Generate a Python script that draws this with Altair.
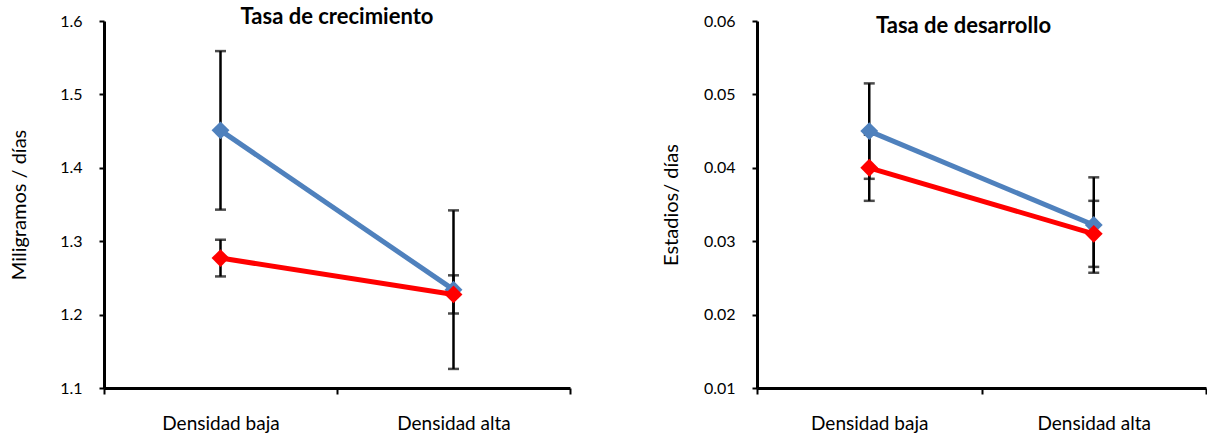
import altair as alt
import pandas as pd

categorias = ["Densidad baja", "Densidad alta"]

crec_azul = [1.451, 1.234]
crec_azul_err = [0.108, 0.108]
crec_rojo = [1.277, 1.2275]
crec_rojo_err = [0.025, 0.026]
crec_ticks = [1.1, 1.2, 1.3, 1.4, 1.5, 1.6]

des_azul = [0.045, 0.0322]
des_azul_err = [0.0065, 0.0065]
des_rojo = [0.040, 0.0310]
des_rojo_err = [0.0045, 0.0045]
des_ticks = [0.01, 0.02, 0.03, 0.04, 0.05, 0.06]

AZUL = "#4F81BD"
ROJO = "#FF0000"
FONT = "Lato"


def panel(titulo, ytitulo, azul, azul_err, rojo, rojo_err, ticks, fmt, w, h,
          title_dx, title_dy, tpad):
    rows = []
    for serie, vals, errs in [("azul", azul, azul_err), ("rojo", rojo, rojo_err)]:
        for c, v, e in zip(categorias, vals, errs):
            rows.append(dict(cat=c, serie=serie, v=v, lo=v - e, hi=v + e))
    df = pd.DataFrame(rows)

    x = alt.X("cat:N", sort=categorias,
              scale=alt.Scale(paddingInner=0, paddingOuter=0),
              axis=alt.Axis(title=None, tickBand="extent", labelAngle=0,
                            labelPadding=20, tickSize=6, labelFontSize=19,
                            grid=False))
    yscale = alt.Scale(domain=[ticks[0], ticks[-1]], nice=False, zero=False)
    base = alt.Chart(df).encode(x=x)

    rule = base.mark_rule(color="black", strokeWidth=2.5).encode(
        y=alt.Y("lo:Q", scale=yscale,
                axis=alt.Axis(values=ticks, format=fmt, title=ytitulo,
                              titlePadding=tpad, tickSize=5, labelPadding=17,
                              labelFontSize=16, titleFontSize=20,
                              titleFontWeight="normal", grid=False)),
        y2="hi:Q")
    cap_lo = base.mark_tick(color="black", thickness=2.5, size=11).encode(
        y=alt.Y("lo:Q", scale=yscale))
    cap_hi = base.mark_tick(color="black", thickness=2.5, size=11).encode(
        y=alt.Y("hi:Q", scale=yscale))

    layers = [rule, cap_lo, cap_hi]
    for serie, col in [("azul", AZUL), ("rojo", ROJO)]:
        sub = base.transform_filter(alt.datum.serie == serie)
        layers.append(sub.mark_line(color=col, strokeWidth=5).encode(
            y=alt.Y("v:Q", scale=yscale)))
        layers.append(sub.mark_point(shape="diamond", filled=True, size=320,
                                     color=col, opacity=1).encode(
            y=alt.Y("v:Q", scale=yscale)))

    return alt.layer(*layers).properties(
        width=w, height=h,
        title=alt.TitleParams(titulo, font=FONT, fontSize=22, fontWeight="bold",
                              color="black", anchor="middle", frame="group",
                              baseline="middle", offset=0, dy=title_dy,
                              dx=title_dx))


left = panel("Tasa de crecimiento", "Miligramos / días", crec_azul, crec_azul_err,
             crec_rojo, crec_rojo_err, crec_ticks, ".1f", 466, 367, 0, 26, 30)
right = panel("Tasa de desarrollo", "Estadios/ días", des_azul, des_azul_err,
              des_rojo, des_rojo_err, des_ticks, ".2f", 449, 367, -18, 35, 22)

chart = alt.hconcat(left, right, spacing=90).properties(
    padding={"left": 9, "top": 6, "right": 0, "bottom": 0},
    background="white"
).configure_view(stroke=None).configure_axis(
    grid=False, domainColor="black", domainWidth=3, tickColor="black",
    tickWidth=2, labelColor="black", titleColor="black", labelFont=FONT,
    titleFont=FONT
)

chart.save("out.html", embed_options={"renderer": "svg", "actions": False})
